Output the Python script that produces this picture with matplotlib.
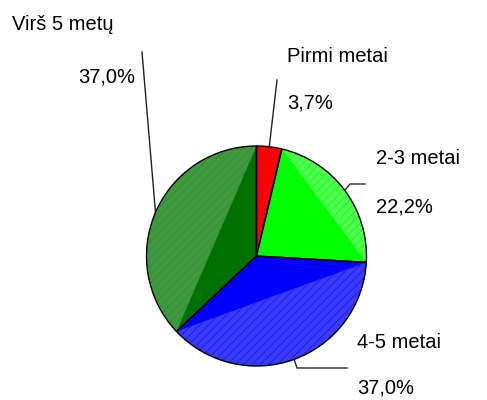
import numpy as np
import matplotlib
matplotlib.use("Agg")
import matplotlib.pyplot as plt
from matplotlib.patches import Polygon

# ---- data ----
categories = ["Pirmi metai", "2-3 metai", "4-5 metai", "Virš 5 metų"]
values = [3.7, 22.2, 37.0, 37.0]
pct_labels = ["3,7%", "22,2%", "37,0%", "37,0%"]
base_colors = ["#ff0000", "#00ff00", "#0000ff", "#007000"]
seg_colors = [None, "#4dff4d", "#3b3bff", "#3f9a3f"]
hatch_colors = [None, "#22ee22", "#1a1ae0", "#358c35"]

W, H = 487, 400
fig = plt.figure(figsize=(W / 100, H / 100), dpi=100)
ax = fig.add_axes([0, 0, 1, 1])

cx, cy, R = 256.5, H - 256, 110
wedges, _ = ax.pie(values, colors=base_colors, startangle=90, counterclock=False,
                   center=(cx, cy), radius=R,
                   wedgeprops=dict(edgecolor="none", linewidth=0))

plt.rcParams["hatch.linewidth"] = 0.6
for w, sc, hc in zip(wedges, seg_colors, hatch_colors):
    if sc is None:
        continue
    t = np.radians(np.linspace(w.theta1, w.theta2, 100))
    pts = np.column_stack([cx + R * np.cos(t), cy + R * np.sin(t)])
    ax.add_patch(Polygon(pts, closed=True, facecolor=sc, edgecolor=hc,
                         hatch="////", linewidth=0, zorder=2))

# outlines
ax.pie(values, colors=["none"] * 4, startangle=90, counterclock=False,
       center=(cx, cy), radius=R,
       wedgeprops=dict(edgecolor="black", linewidth=1.0, fill=False, zorder=3))

font = dict(family=["Liberation Sans", "DejaVu Sans"], fontsize=14.5, color="black")

# label positions (pixels from top-left)
name_pos = [(287, 57, "left"), (376, 158, "left"), (357, 343, "left"), (12, 25, "left")]
pct_pos = [(287, 103, "left"), (376, 207, "left"), (357, 388, "left"), (135, 77, "right")]
leader_start = [[(277, 80)], [(365, 184), (350, 184)], [(347, 368), (297, 368)], [(142, 52)]]

for i, w in enumerate(wedges):
    x, y, ha = name_pos[i]
    ax.text(x, H - y, categories[i], ha=ha, va="center", **font)
    x, y, ha = pct_pos[i]
    ax.text(x, H - y, pct_labels[i], ha=ha, va="center", **font)
    mid = np.radians((w.theta1 + w.theta2) / 2)
    ex, ey = cx + R * np.cos(mid), cy + R * np.sin(mid)
    xs = [p[0] for p in leader_start[i]] + [ex]
    ys = [H - p[1] for p in leader_start[i]] + [ey]
    ax.plot(xs, ys, color="#222222", linewidth=1.0, zorder=1)

ax.set_xlim(0, W)
ax.set_ylim(0, H)
ax.set_aspect("auto")
ax.axis("off")
fig.savefig("out.png", dpi=100, facecolor="white")
